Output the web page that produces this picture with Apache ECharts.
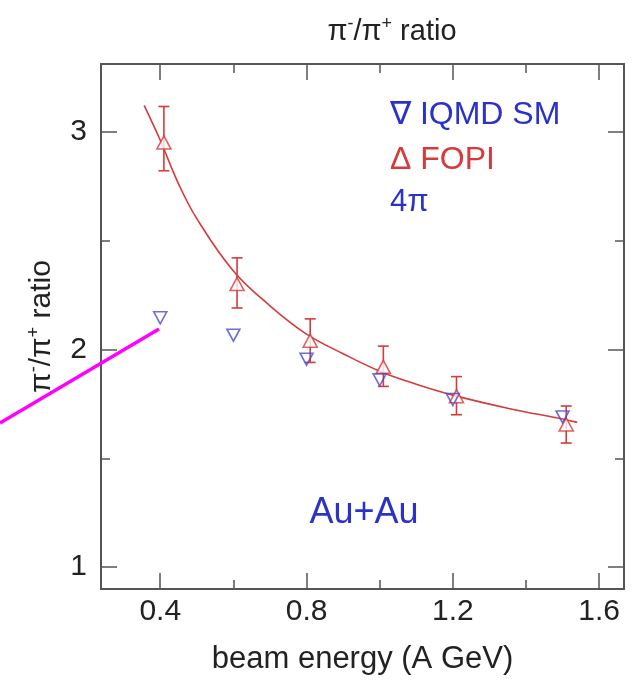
<!DOCTYPE html>
<html>
<head>
<meta charset="utf-8">
<script src="https://cdn.jsdelivr.net/npm/echarts@6/dist/echarts.min.js"></script>
<style>html,body{margin:0;padding:0;background:#fff}#c{width:638px;height:683px}</style>
</head>
<body>
<div id="c"></div>
<script>
// ---- data ----
var fopiX    = [0.41, 0.61, 0.81, 1.01, 1.21, 1.51];
var fopiY    = [2.95, 2.30, 2.04, 1.92, 1.785, 1.655];
var fopiHigh = [3.115, 2.42, 2.14, 2.015, 1.875, 1.74];
var fopiLow  = [2.82, 2.19, 1.94, 1.83, 1.70, 1.57];

var iqmdX = [0.40, 0.60, 0.80, 1.00, 1.20, 1.50];
var iqmdY = [2.145, 2.065, 1.955, 1.86, 1.77, 1.69];

var fitX = [0.356, 0.40, 0.45, 0.50, 0.60, 0.70, 0.80, 0.90, 1.00, 1.10, 1.20, 1.35, 1.50, 1.54];
var fitY = [3.12, 2.96, 2.76, 2.60, 2.36, 2.20, 2.07, 1.98, 1.90, 1.84, 1.79, 1.73, 1.68, 1.665];

var xMajorTicks = [0.4, 0.8, 1.2, 1.6];
var xMinorTicks = [0.6, 1.0, 1.4];
var yMajorTicks = [1, 2, 3];
var yMinorTicks = [1.5, 2.5];

var xMin = 0.238, xMax = 1.668, yMin = 0.9, yMax = 3.31;

var FONT = '"Liberation Sans", Arial, Helvetica, sans-serif';
var AX = '#555';
var RED = '#d63a3a';
var BLUE = '#4a4ad0';
var LBLUE = '#2a32c8';

function pairs(xs, ys) { return xs.map(function (x, i) { return [x, ys[i]]; }); }

var chart = echarts.init(document.getElementById('c'), null, {renderer: 'canvas'});

function xAxisDef(pos, ticks, len, withLine, withLabel) {
  return {
    type: 'value', position: pos, min: xMin, max: xMax, gridIndex: 0,
    axisLine: {show: withLine, onZero: false, lineStyle: {color: AX, width: 2}},
    axisTick: {show: true, inside: true, length: len, customValues: ticks, lineStyle: {color: AX, width: 1.5}},
    axisLabel: withLabel ? {show: true, customValues: ticks, margin: 8, fontSize: 30, fontFamily: FONT, color: '#222',
      formatter: function (v) { return String(Math.round(v * 10) / 10); }} : {show: false},
    splitLine: {show: false}
  };
}
function yAxisDef(pos, ticks, len, withLine, withLabel) {
  return {
    type: 'value', position: pos, min: yMin, max: yMax, gridIndex: 0,
    axisLine: {show: withLine, onZero: false, lineStyle: {color: AX, width: 2}},
    axisTick: {show: true, inside: true, length: len, customValues: ticks, lineStyle: {color: AX, width: 1.5}},
    axisLabel: withLabel ? {show: true, customValues: ticks, margin: 14, fontSize: 30, fontFamily: FONT, color: '#222',
      formatter: function (v) { return String(v); }} : {show: false},
    splitLine: {show: false}
  };
}

var xA0 = xAxisDef('bottom', xMajorTicks, 16, true, true);
xA0.name = 'beam energy (A GeV)';
xA0.nameLocation = 'middle';
xA0.nameGap = 55;
xA0.nameTextStyle = {fontSize: 31, fontFamily: FONT, color: '#222'};

var yA0 = yAxisDef('left', yMajorTicks, 16, true, true);
yA0.name = '{a|π}{s|-}{a|/π}{s|+}{a| ratio}';
yA0.nameLocation = 'middle';
yA0.nameGap = 42;
yA0.nameRotate = 90;
yA0.nameTextStyle = {
  fontFamily: FONT, color: '#222',
  rich: {
    a: {fontSize: 30, fontFamily: FONT, color: '#222'},
    s: {fontSize: 18, fontFamily: FONT, color: '#222', verticalAlign: 'top', lineHeight: 34}
  }
};

var option = {
  backgroundColor: '#fff',
  animation: false,
  grid: {left: 101, right: 14, top: 64, bottom: 94, containLabel: false},
  xAxis: [
    xA0,
    xAxisDef('bottom', xMinorTicks, 9, false, false),
    xAxisDef('top', xMajorTicks, 16, true, false),
    xAxisDef('top', xMinorTicks, 9, false, false)
  ],
  yAxis: [
    yA0,
    yAxisDef('left', yMinorTicks, 9, false, false),
    yAxisDef('right', yMajorTicks, 16, true, false),
    yAxisDef('right', yMinorTicks, 9, false, false)
  ],
  graphic: [
    {type: 'text', x: 392, y: 32, z: 10,
      style: {
        text: '{a|π}{s|-}{a|/π}{s|+}{a| ratio}',
        align: 'center', verticalAlign: 'middle',
        rich: {
          a: {fontSize: 29, fontFamily: FONT, fill: '#222'},
          s: {fontSize: 18, fontFamily: FONT, fill: '#222', verticalAlign: 'top', lineHeight: 34}
        }
      }},
    {type: 'text', x: 390, y: 115, z: 10,
      style: {text: '∇ IQMD SM', fontSize: 32, fontFamily: FONT, fill: LBLUE, verticalAlign: 'middle'}},
    {type: 'text', x: 390, y: 160, z: 10,
      style: {text: 'Δ FOPI', fontSize: 32, fontFamily: FONT, fill: RED, verticalAlign: 'middle'}},
    {type: 'text', x: 390, y: 202, z: 10,
      style: {text: '4π', fontSize: 31, fontFamily: FONT, fill: LBLUE, verticalAlign: 'middle'}},
    {type: 'text', x: 364, y: 513, z: 10,
      style: {text: 'Au+Au', fontSize: 36, fontFamily: FONT, fill: LBLUE, align: 'center', verticalAlign: 'middle'}},
    {type: 'polyline', z: 100,
      shape: {points: [[0, 423], [159, 329]]},
      style: {stroke: '#ff00ff', lineWidth: 3.5}}
  ],
  series: [
    {
      type: 'line', name: 'fit', data: pairs(fitX, fitY), smooth: 0.4,
      showSymbol: false, symbol: 'none', xAxisIndex: 0, yAxisIndex: 0,
      lineStyle: {color: RED, width: 1.6}, z: 2
    },
    {
      type: 'custom', name: 'FOPI err', xAxisIndex: 0, yAxisIndex: 0, z: 3,
      data: fopiX.map(function (x, i) { return [x, fopiLow[i], fopiHigh[i]]; }),
      renderItem: function (params, api) {
        var lo = api.coord([api.value(0), api.value(1)]);
        var hi = api.coord([api.value(0), api.value(2)]);
        var w = 5.5;
        var st = {stroke: RED, lineWidth: 1.6, fill: null};
        return {type: 'group', children: [
          {type: 'line', shape: {x1: lo[0], y1: lo[1], x2: hi[0], y2: hi[1]}, style: st},
          {type: 'line', shape: {x1: lo[0] - w, y1: lo[1], x2: lo[0] + w, y2: lo[1]}, style: st},
          {type: 'line', shape: {x1: hi[0] - w, y1: hi[1], x2: hi[0] + w, y2: hi[1]}, style: st}
        ]};
      }
    },
    {
      type: 'scatter', name: 'FOPI', data: pairs(fopiX, fopiY), xAxisIndex: 0, yAxisIndex: 0,
      symbol: 'triangle', symbolSize: [14, 13], z: 4,
      itemStyle: {color: '#fff', borderColor: RED, borderWidth: 1.6}
    },
    {
      type: 'scatter', name: 'IQMD SM', data: pairs(iqmdX, iqmdY), xAxisIndex: 0, yAxisIndex: 0,
      symbol: 'triangle', symbolRotate: 180, symbolSize: [13, 12], z: 5,
      itemStyle: {color: 'rgba(0,0,0,0)', borderColor: BLUE, borderWidth: 1.6}
    }
  ]
};
chart.setOption(option);
</script>
</body>
</html>
